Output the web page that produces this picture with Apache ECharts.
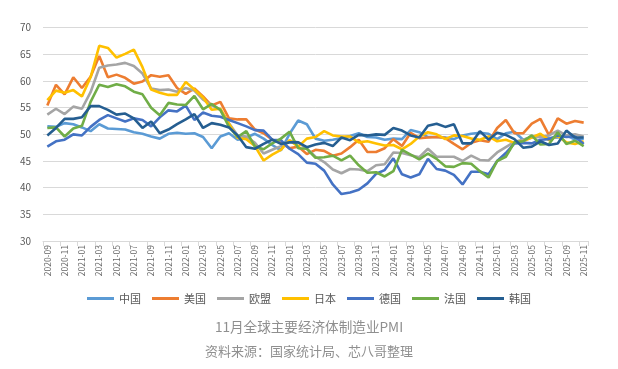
<!DOCTYPE html>
<html>
<head>
<meta charset="utf-8">
<style>
html,body{margin:0;padding:0;background:#fff;}
#c{width:618px;height:369px;}
</style>
<script src="https://cdn.jsdelivr.net/npm/echarts@6/dist/echarts.min.js"></script>
</head>
<body>
<div id="c"></div>
<script>
const months = [];
(function(){
  let y = 2020, m = 9;
  while (y < 2025 || (y === 2025 && m <= 11)) {
    months.push(y + '-' + (m < 10 ? '0' + m : m));
    m++; if (m > 12) { m = 1; y++; }
  }
})();

const yTicks = [30, 35, 40, 45, 50, 55, 60, 65, 70];

const seriesNames = ['中国', '美国', '欧盟', '日本', '德国', '法国', '韩国'];

const china = [51.5,51.4,52.1,51.9,
  51.3,50.6,51.9,51.1,51.0,50.9,50.4,50.1,49.6,49.2,50.1,50.3,
  50.1,50.2,49.5,47.4,49.6,50.2,49.0,49.4,50.1,49.2,48.0,47.0,
  50.1,52.6,51.9,49.2,48.8,49.0,49.3,49.7,50.2,49.5,49.4,49.0,
  49.2,49.1,50.8,50.4,49.5,49.5,49.4,49.1,49.8,50.1,50.3,50.1,
  49.1,50.2,50.5,49.0,49.5,49.7,49.3,49.4,49.8,49.0,49.2];

const usa = [55.4,59.3,57.5,60.7,
  58.7,60.8,64.7,60.7,61.2,60.6,59.5,59.9,61.1,60.8,61.1,58.7,
  57.6,58.6,57.1,55.4,56.1,53.0,52.8,52.8,50.9,50.2,49.0,48.4,
  47.4,47.7,46.3,47.1,46.9,46.0,46.4,47.6,49.0,46.7,46.7,47.4,
  49.1,47.8,50.3,49.3,49.4,49.5,49.3,48.2,47.2,48.4,48.9,48.6,
  51.2,52.7,50.2,50.2,52.0,52.9,49.8,53.0,52.0,52.5,52.2];

const eu = [53.7,54.8,53.8,55.2,
  54.8,57.9,62.5,62.9,63.1,63.4,62.8,61.4,58.6,58.3,58.4,58.0,
  58.7,58.2,56.5,55.5,54.6,52.1,49.8,49.6,48.4,46.4,47.1,47.8,
  48.8,48.5,47.3,45.8,44.8,43.4,42.7,43.5,43.4,43.1,44.2,44.4,
  46.6,46.5,46.1,45.7,47.3,45.8,45.8,45.8,45.0,46.0,45.2,45.1,
  46.6,47.6,48.6,49.0,49.4,49.5,49.8,50.7,49.8,50.0,49.6];

const japan = [56.4,58.2,57.8,58.3,
  57.1,60.7,66.6,66.2,64.4,65.1,65.9,62.6,58.4,57.8,57.4,57.4,
  59.8,58.4,56.9,54.6,54.8,52.0,49.3,49.1,47.8,45.1,46.2,47.1,
  48.9,47.7,49.2,49.5,50.6,49.8,49.6,49.6,48.5,48.7,48.3,47.9,
  48.0,47.2,48.2,49.6,50.4,50.0,49.1,49.8,49.7,49.2,49.0,49.6,
  48.7,49.0,48.4,48.7,49.4,50.1,48.9,49.7,48.5,48.2,48.7];

const germany = [47.7,48.7,49.0,50.0,
  49.8,51.4,52.7,53.6,53.0,52.4,53.0,52.7,51.5,53.2,54.5,54.3,
  55.4,52.7,54.1,53.5,53.3,52.7,52.1,51.5,50.8,50.7,49.0,48.9,
  47.3,46.3,44.7,44.5,43.2,40.6,38.8,39.1,39.6,40.8,42.6,43.3,
  45.5,42.5,41.9,42.5,45.4,43.5,43.2,42.4,40.6,43.0,43.0,42.5,
  45.0,46.5,48.3,48.4,48.3,49.0,49.1,49.8,49.5,49.6,48.2];

const france = [51.2,51.3,49.6,51.1,
  51.6,56.1,59.3,58.9,59.4,59.0,58.0,57.5,55.0,53.6,55.9,55.6,
  55.5,57.2,54.7,55.7,54.6,51.4,49.5,50.6,47.7,47.2,48.3,49.2,
  50.5,47.4,47.3,45.6,45.7,46.0,45.1,46.0,44.2,42.8,42.9,42.1,
  43.1,47.1,46.2,45.3,46.4,45.4,44.0,43.9,44.6,44.5,43.1,41.9,
  45.0,45.8,48.5,48.7,49.8,48.1,48.2,50.4,48.2,48.8,47.8];

const korea = [49.8,51.2,52.9,52.9,
  53.2,55.3,55.3,54.6,53.7,53.9,53.0,51.2,52.4,50.2,50.9,51.9,
  52.8,53.8,51.2,52.1,51.8,51.3,49.8,47.6,47.3,48.2,49.0,48.2,
  48.5,48.5,47.6,48.1,48.4,47.8,49.4,48.9,49.9,49.8,50.0,49.9,
  51.2,50.7,49.8,49.4,51.6,52.0,51.4,51.9,48.3,48.3,50.6,49.0,
  50.3,49.9,49.1,47.5,47.7,48.7,48.0,48.3,50.7,49.4,49.4];

const titleText = '11月全球主要经济体制造业PMI';
const sourceText = '资料来源：国家统计局、芯八哥整理';

const colors = ['#5B9BD5','#ED7D31','#A5A5A5','#FFC000','#4472C4','#70AD47','#255E91'];
const allData = [china, usa, eu, japan, germany, france, korea];

const chart = echarts.init(document.getElementById('c'), null, {renderer: 'canvas'});
const FONT = '"Noto Sans CJK SC", "Noto Sans", sans-serif';

chart.setOption({
  animation: false,
  color: colors,
  textStyle: {fontFamily: FONT},
  grid: {left: 43, right: 30, top: 27.7, bottom: 128},
  legend: {
    data: seriesNames,
    top: 288,
    left: 'center',
    icon: 'rect',
    itemWidth: 27,
    itemHeight: 3,
    itemGap: 11,
    textStyle: {color: '#595959', fontSize: 11, fontFamily: FONT}
  },
  graphic: [
    {type: 'text', left: 'center', top: 320, style: {text: titleText, fill: '#8f8f8f', font: '13.6px ' + FONT}},
    {type: 'text', left: 'center', top: 345, style: {text: sourceText, fill: '#8f8f8f', font: '13px ' + FONT}}
  ],
  xAxis: {
    type: 'category',
    data: months,
    boundaryGap: true,
    axisLine: {lineStyle: {color: '#d9d9d9'}},
    axisTick: {show: true, interval: 1, lineStyle: {color: '#d9d9d9'}},
    axisLabel: {interval: 1, rotate: 90, fontSize: 8.5, color: '#6a6a6a', margin: 4, fontFamily: FONT}
  },
  yAxis: {
    type: 'value',
    min: yTicks[0],
    max: yTicks[yTicks.length - 1],
    interval: 5,
    axisLine: {show: false},
    axisTick: {show: false},
    splitLine: {lineStyle: {color: '#d9d9d9', width: 1}},
    axisLabel: {fontSize: 10, color: '#595959', margin: 12, fontFamily: FONT}
  },
  series: seriesNames.map((n, i) => ({
    name: n,
    type: 'line',
    data: allData[i],
    symbol: 'none',
    lineStyle: {width: 2.6, color: colors[i]},
    z: 2
  }))
});
</script>
</body>
</html>
